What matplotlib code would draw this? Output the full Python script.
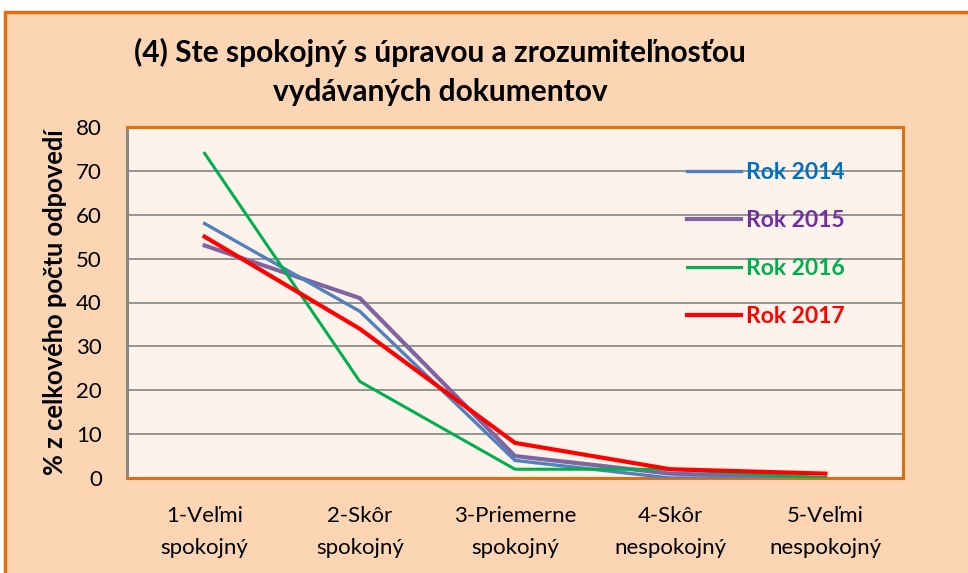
import matplotlib.pyplot as plt
from matplotlib.patches import Rectangle

# values (% of all answers)
categories = ['1-Veľmi\nspokojný', '2-Skôr\nspokojný', '3-Priemerne\nspokojný',
              '4-Skôr\nnespokojný', '5-Veľmi\nnespokojný']
rok_2014 = [58, 38, 4, 0, 0]
rok_2015 = [53, 41, 5, 1, 0]
rok_2016 = [74, 22, 2, 2, 0]
rok_2017 = [55, 34, 8, 2, 1]
series_names = ['Rok 2014', 'Rok 2015', 'Rok 2016', 'Rok 2017']
yticks = [0, 10, 20, 30, 40, 50, 60, 70, 80]

plt.rcParams['font.family'] = ['Lato', 'DejaVu Sans']

fig = plt.figure(figsize=(9.68, 5.73), dpi=100, facecolor='white')
fig.patches.append(Rectangle((5 / 968, -0.02), 1.0, 1 - 12 / 573 + 0.02,
                             transform=fig.transFigure, facecolor='#FCD5B4',
                             edgecolor='#E46C0A', linewidth=2.5, zorder=-10))

ax = fig.add_axes([127 / 968, 1 - 478 / 573, 776 / 968, 351 / 573])
ax.set_facecolor('#FDF3EA')

x = range(1, len(categories) + 1)
ax.plot(x, rok_2014, color='#4F81BD', lw=2.4, label=series_names[0], zorder=3)
ax.plot(x, rok_2015, color='#8064A2', lw=3.0, label=series_names[1], zorder=2)
ax.plot(x, rok_2016, color='#00B050', lw=2.2, label=series_names[2], zorder=3)
ax.plot(x, rok_2017, color='#FF0000', lw=3.0, label=series_names[3], zorder=4)

ax.set_xlim(0.5, 5.5)
ax.set_ylim(0, 80)
ax.set_yticks(yticks)
ax.set_xticks(list(x))
ax.set_xticklabels(categories, fontsize=16.5, linespacing=1.75)
ax.tick_params(axis='both', length=0, labelsize=16)
ax.tick_params(axis='x', pad=20)
ax.tick_params(axis='y', pad=18)
ax.grid(axis='y', color='#8C8C8C', lw=1.3)
ax.set_axisbelow(True)

for side in ['top', 'right', 'bottom']:
    ax.spines[side].set_color('#E46C0A')
    ax.spines[side].set_linewidth(2.2)
ax.spines['left'].set_color('#868686')
ax.spines['left'].set_linewidth(2.2)

ax.set_ylabel('% z celkového počtu odpovedí', fontsize=18.4, fontweight='bold')
ax.yaxis.set_label_coords(-0.077, 0.5)

leg = ax.legend(loc='upper left', bbox_to_anchor=(0.722, 0.9), frameon=False,
                prop={'size': 16.5, 'weight': 'bold'}, handlelength=2.35,
                handletextpad=0.2, labelspacing=1.17, borderpad=0, borderaxespad=0,
                labelcolor=['#0070C0', '#7030A0', '#00B050', '#FF0000'])

fig.text(440 / 968, 1 - 72 / 573, '(4) Ste spokojný s úpravou a zrozumiteľnosťou\nvydávaných dokumentov',
         ha='center', va='center', fontsize=21.5, fontweight='bold', linespacing=1.45)

fig.savefig('out.png', dpi=100, facecolor=fig.get_facecolor())
